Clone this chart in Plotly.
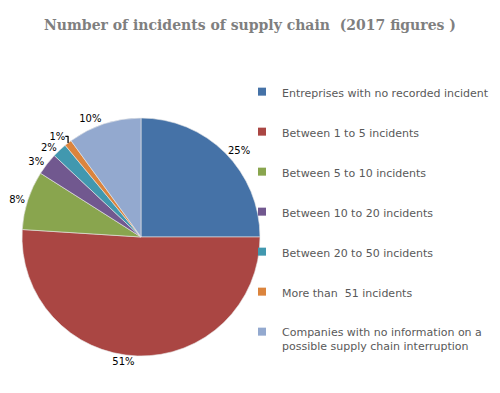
import plotly.graph_objects as go

categories = [
    "Entreprises with no recorded incident",
    "Between 1 to 5 incidents",
    "Between 5 to 10 incidents",
    "Between 10 to 20 incidents",
    "Between 20 to 50 incidents",
    "More than  51 incidents",
    "Companies with no information on a<br>possible supply chain interruption",
]
values = [25, 51, 8, 3, 2, 1, 10]
colors = ["#4572A7", "#AA4643", "#89A54E", "#71588F", "#4198AF", "#DB843D", "#93A9CF"]

fig = go.Figure()
fig.add_trace(go.Pie(
    labels=categories, values=values, sort=False, direction="clockwise", rotation=0,
    marker=dict(colors=colors, line=dict(color="#e8e8e8", width=0.6)),
    textinfo="percent", texttemplate="%{value}%", textposition="outside",
    textfont=dict(family="DejaVu Sans", size=10, color="#000000"),
    showlegend=False, hoverinfo="label+value",
    domain=dict(x=[22/500, 260/500], y=[(393-356)/393, (393-118)/393]),
))
for i, (c, col) in enumerate(zip(categories, colors)):
    fig.add_trace(go.Scatter(
        x=[None], y=[None], mode="markers", name=c, legendgroup=f"g{i}",
        marker=dict(symbol="square", size=8, color=col), showlegend=True,
        xaxis="x", yaxis="y",
    ))

fig.update_layout(
    width=500, height=393, autosize=False,
    margin=dict(l=0, r=0, t=0, b=0),
    paper_bgcolor="white", plot_bgcolor="white",
    xaxis=dict(visible=False, domain=[0.99, 1]), yaxis=dict(visible=False, domain=[0.99, 1]),
    title=dict(text="<b>Number of incidents of supply chain  (2017 figures )</b>",
               x=0.5, xanchor="center", y=1 - 25/393, yanchor="middle",
               font=dict(family="DejaVu Serif", size=14, color="#7f7f7f")),
    legend=dict(x=242/500, xanchor="left", y=1 - 78/393, yanchor="top",
                tracegroupgap=21, valign="top",
                font=dict(family="DejaVu Sans", size=11, color="#595959"),
                bgcolor="rgba(0,0,0,0)"),
)
fig.write_html("out.html", config={"displayModeBar": False},
               post_script="document.body.style.margin='0';document.body.style.overflow='hidden';")
